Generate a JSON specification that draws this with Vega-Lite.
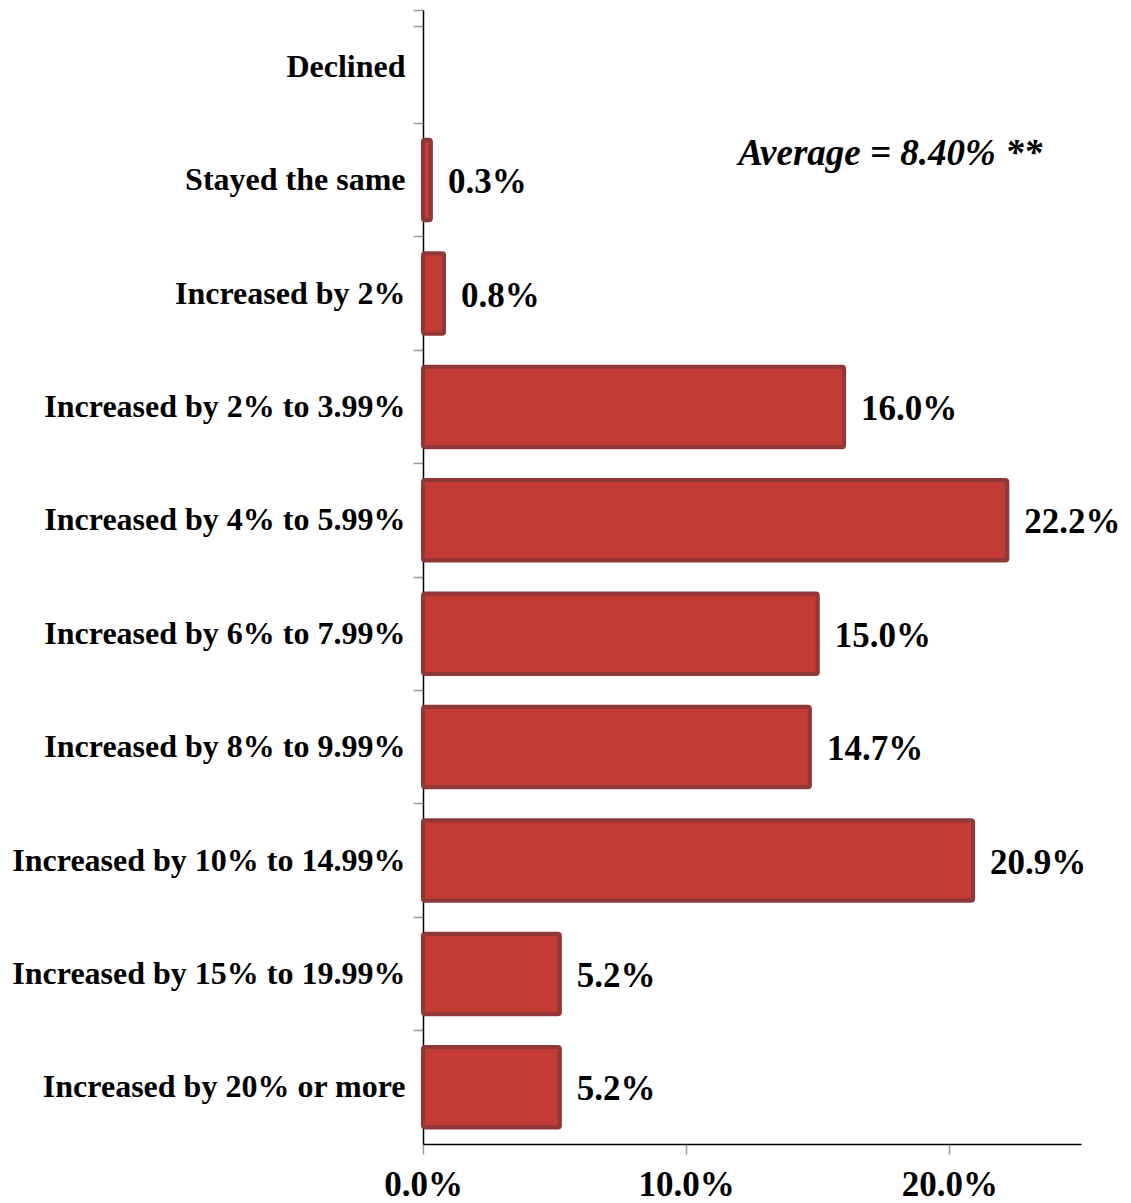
{
  "$schema": "https://vega.github.io/schema/vega-lite/v6.json",
  "width": 658,
  "height": 1134,
  "autosize": {"type": "none"},
  "padding": {"left": 423, "top": 10, "right": 50, "bottom": 59},
  "background": "white",
  "config": {"view": {"stroke": null}, "font": "'Liberation Serif', 'Times New Roman', serif"},
  "data": {
    "values": [
      {"category": "Declined", "pct": null},
      {"category": "Stayed the same", "pct": 0.003},
      {"category": "Increased by 2%", "pct": 0.008},
      {"category": "Increased by 2% to 3.99%", "pct": 0.160},
      {"category": "Increased by 4% to 5.99%", "pct": 0.222},
      {"category": "Increased by 6% to 7.99%", "pct": 0.150},
      {"category": "Increased by 8% to 9.99%", "pct": 0.147},
      {"category": "Increased by 10% to 14.99%", "pct": 0.209},
      {"category": "Increased by 15% to 19.99%", "pct": 0.052},
      {"category": "Increased by 20% or more", "pct": 0.052}
    ]
  },
  "encoding": {
    "y": {
      "field": "category",
      "type": "nominal",
      "scale": {
        "domain": ["Declined", "Stayed the same", "Increased by 2%", "Increased by 2% to 3.99%", "Increased by 4% to 5.99%", "Increased by 6% to 7.99%", "Increased by 8% to 9.99%", "Increased by 10% to 14.99%", "Increased by 15% to 19.99%", "Increased by 20% or more"],
        "paddingInner": 0.29,
        "paddingOuter": 0.145
      },
      "axis": {
        "title": null,
        "domainColor": "#000000",
        "domainWidth": 1.5,
        "tickColor": "#999999",
        "tickSize": 10,
        "tickWidth": 1.5,
        "bandPosition": -0.204,
        "tickExtra": true,
        "labelFont": "'Liberation Serif', 'Times New Roman', serif",
        "labelFontWeight": "bold",
        "labelFontSize": 32,
        "labelColor": "#000000",
        "labelPadding": 8,
        "labelLimit": 500
      }
    },
    "x": {
      "field": "pct",
      "type": "quantitative",
      "scale": {"domain": [0, 0.25], "nice": false},
      "axis": {
        "title": null,
        "values": [0, 0.1, 0.2],
        "format": ".1%",
        "grid": false,
        "labelFlush": false,
        "domainColor": "#000000",
        "domainWidth": 1.5,
        "tickColor": "#999999",
        "tickSize": 10,
        "tickWidth": 1.5,
        "labelFont": "'Liberation Serif', 'Times New Roman', serif",
        "labelFontWeight": "bold",
        "labelFontSize": 35,
        "labelColor": "#000000",
        "labelPadding": 13
      }
    }
  },
  "layer": [
    {
      "mark": {"type": "bar", "fill": "#c23b34", "stroke": "#903838", "strokeWidth": 4, "cornerRadius": 2}
    },
    {
      "mark": {"type": "text", "align": "left", "baseline": "middle", "dx": 17, "dy": 2, "font": "'Liberation Serif', 'Times New Roman', serif", "fontWeight": "bold", "fontSize": 35, "color": "#000000"},
      "encoding": {"text": {"field": "pct", "type": "quantitative", "format": ".1%"}}
    },
    {
      "data": {"values": [{"category": "Stayed the same", "pct": 0.1775, "label": "Average = 8.40% **"}]},
      "mark": {"type": "text", "align": "center", "baseline": "middle", "dy": -26, "font": "'Liberation Serif', 'Times New Roman', serif", "fontWeight": "bold", "fontStyle": "italic", "fontSize": 37, "color": "#000000"},
      "encoding": {"text": {"field": "label"}}
    }
  ]
}
